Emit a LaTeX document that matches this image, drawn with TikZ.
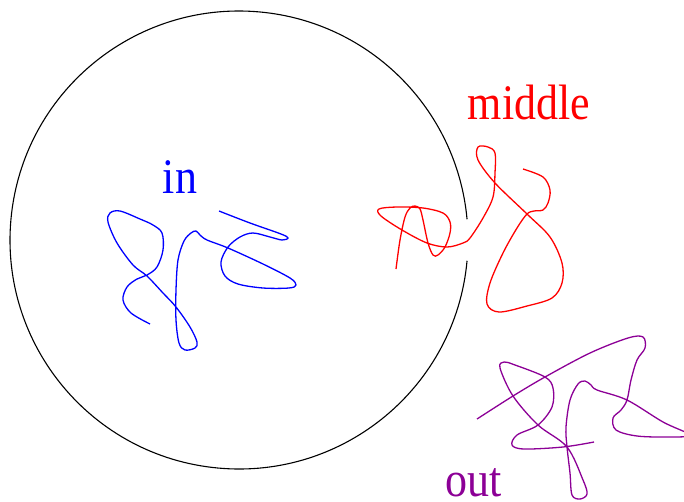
\documentclass[tikz,border=0pt]{standalone}
\usepackage{fontspec}
\setmainfont{Liberation Serif}
\definecolor{inblue}{RGB}{0,0,255}
\definecolor{midred}{RGB}{255,0,0}
\definecolor{outpurple}{RGB}{140,0,150}
\newcommand{\tallbox}[1]{\scalebox{1}[1.13]{#1}}
\begin{document}
\begin{tikzpicture}[x=1pt,y=-1pt,
  lbl/.style={anchor=base,inner sep=0pt,font=\fontsize{44}{50}\selectfont},
  ring/.style={line width=1.1pt,black}]
\useasboundingbox (0,0) rectangle (684,501);
\clip (0,0) rectangle (684,501);
% the region
\coordinate (c) at (239,240);
\draw[ring] (c) ++(5.2:229) arc[start angle=5.2,end angle=354.8,radius=229];
% labels
\node[lbl,text=inblue] (in) at (180,193) {\tallbox{in}};
\node[lbl,text=midred] (middle) at (529,119) {\tallbox{middle}};
\node[lbl,text=outpurple] (out) at (474,496.5) {\tallbox{out}};
% blue curve (in)
\draw[inblue,line width=1.3pt] plot[smooth,tension=0.55] coordinates {
 (150,324) (131,313) (123,300) (127,287) (137,279) (147,275) (157,267) (163,250)
 (162,233) (153,225) (140,219) (120,211) (110,213) (108,222) (117,243) (133,265)
 (147,276) (163,293) (176,307) (190,327) (197,342) (195,348) (185,350) (179,343)
 (176,320) (176,290) (178,260) (184,241) (191,233) (196,231) (200,235) (207,240)
 (228,248) (263,264) (290,278) (296,285) (289,288) (263,288) (238,284) (225,276)
 (221,262) (228,247) (240,237) (253,233) (270,237) (282,240) (288,238) (281,234)
 (250,223) (219,211)};
% red curve (middle)
\draw[midred,line width=1.3pt] plot[smooth,tension=0.55] coordinates {
 (396,269) (400,240) (405,217) (410,208) (415,206) (420,209) (423,220) (428,243)
 (433,255) (438,255) (445,247) (450,233) (450,222) (443,213) (423,208) (397,207)
 (379,209) (381,216) (402,230) (427,243) (447,247) (463,243) (470,238) (483,218)
 (493,197) (495,173) (495,153) (488,147) (478,147) (478,160) (495,183) (527,214)
 (550,237) (562,263) (562,283) (552,298) (527,306) (499,312) (487,304) (490,283)
 (503,253) (517,228) (527,214) (534,211) (543,210) (548,203) (550,190) (543,177)
 (523,169)};
% purple curve (out)
\draw[outpurple,line width=1.3pt] plot[smooth,tension=0.55] coordinates {
 (477,419) (513,396) (545,377) (590,353) (628,338) (643,337) (645,348) (637,360)
 (631,380) (627,400) (621,410) (613,418) (616,430) (637,436) (670,437) (690,435)
 (663,422) (627,400) (597,390) (591,385) (585,381) (578,384) (570,400) (566,427)
 (567,447) (570,473) (572,495) (580,499) (587,494) (583,480) (567,447) (538,425)
 (513,396) (500,368) (504,362) (515,365) (545,377) (553,388) (552,407) (538,425)
 (517,435) (512,445) (524,449) (563,447) (594,442)};
\end{tikzpicture}
\end{document}
